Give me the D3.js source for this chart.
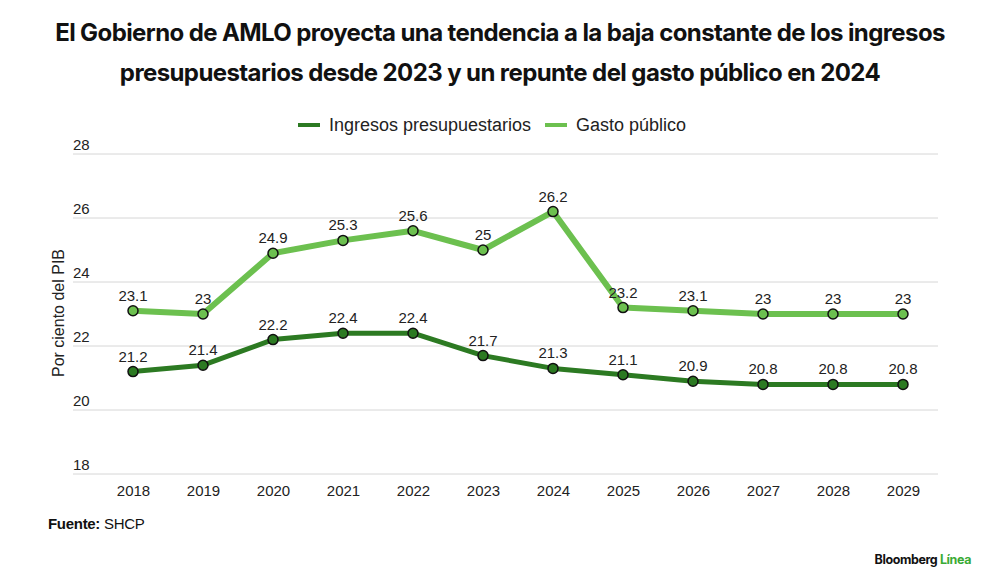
<!DOCTYPE html>
<html>
<head>
<meta charset="utf-8">
<script src="https://cdn.jsdelivr.net/npm/d3@7"></script>
<style>
  body { margin: 0; background: #fff; }
  svg { display: block; font-family: "Liberation Sans", Arial, sans-serif; }
</style>
</head>
<body>
<script>
var width = 1000;
var height = 588;

var years = ["2018", "2019", "2020", "2021", "2022", "2023", "2024", "2025", "2026", "2027", "2028", "2029"];
var ingresos = [21.2, 21.4, 22.2, 22.4, 22.4, 21.7, 21.3, 21.1, 20.9, 20.8, 20.8, 20.8];
var gasto = [23.1, 23, 24.9, 25.3, 25.6, 25, 26.2, 23.2, 23.1, 23, 23, 23];
var yTicks = [18, 20, 22, 24, 26, 28];

var series = [
  { name: "Ingresos presupuestarios", values: ingresos, color: "#2c7a22", width: 5 },
  { name: "Gasto público", values: gasto, color: "#6cc04f", width: 6 }
];

var svg = d3.select("body").append("svg")
  .attr("width", width)
  .attr("height", height);

// title
var title = svg.append("text")
  .attr("x", width / 2)
  .attr("text-anchor", "middle")
  .style("font-family", "Inter, 'Liberation Sans', sans-serif")
  .style("font-weight", 700)
  .style("font-size", "24px")
  .style("letter-spacing", "-0.6px")
  .attr("fill", "#111");
title.append("tspan").attr("x", width / 2).attr("y", 41)
  .text("El Gobierno de AMLO proyecta una tendencia a la baja constante de los ingresos");
title.append("tspan").attr("x", width / 2).attr("y", 81)
  .text("presupuestarios desde 2023 y un repunte del gasto público en 2024");

// scales
var x = d3.scalePoint().domain(years).range([133, 903]);
var y = d3.scaleLinear().domain([18, 28]).range([474, 154]);

// grid
svg.append("g")
  .selectAll("line")
  .data(yTicks)
  .enter().append("line")
  .attr("x1", 73)
  .attr("x2", 938)
  .attr("y1", function(d) { return y(d); })
  .attr("y2", function(d) { return y(d); })
  .attr("stroke", "#d6d6d6")
  .attr("stroke-width", 1);

svg.append("g")
  .selectAll("text")
  .data(yTicks)
  .enter().append("text")
  .attr("x", 73)
  .attr("y", function(d) { return y(d) - 4; })
  .style("font-size", "15px")
  .attr("fill", "#222")
  .text(function(d) { return d; });

// x axis labels
var xAxis = svg.append("g")
  .attr("transform", "translate(0," + 474 + ")")
  .call(d3.axisBottom(x).tickSize(0).tickPadding(11));
xAxis.select(".domain").remove();
xAxis.selectAll("text")
  .style("font-size", "15px")
  .style("font-family", "'Liberation Sans', Arial, sans-serif")
  .attr("fill", "#222");

// y axis title
svg.append("text")
  .attr("transform", "translate(64,313) rotate(-90)")
  .attr("text-anchor", "middle")
  .style("font-size", "16px")
  .attr("fill", "#222")
  .text("Por ciento del PIB");

// lines
var line = d3.line()
  .x(function(d, i) { return x(years[i]); })
  .y(function(d) { return y(d); });

series.forEach(function(s) {
  svg.append("path")
    .datum(s.values)
    .attr("d", line)
    .attr("fill", "none")
    .attr("stroke", s.color)
    .attr("stroke-width", s.width)
    .attr("stroke-linejoin", "round");

  svg.append("g")
    .selectAll("circle")
    .data(s.values)
    .enter().append("circle")
    .attr("cx", function(d, i) { return x(years[i]); })
    .attr("cy", function(d) { return y(d); })
    .attr("r", 5)
    .attr("fill", s.color)
    .attr("stroke", "#111")
    .attr("stroke-width", 1.5);

  svg.append("g")
    .selectAll("text")
    .data(s.values)
    .enter().append("text")
    .attr("x", function(d, i) { return x(years[i]); })
    .attr("y", function(d) { return y(d) - 10; })
    .attr("text-anchor", "middle")
    .style("font-size", "15px")
    .attr("fill", "#222")
    .text(function(d) { return d; });
});

// legend
var legend = svg.append("g");
var legendItems = [
  { s: series[0], x: 298 },
  { s: series[1], x: 545 }
];
legendItems.forEach(function(l) {
  legend.append("line")
    .attr("x1", l.x).attr("x2", l.x + 22)
    .attr("y1", 125).attr("y2", 125)
    .attr("stroke", l.s.color)
    .attr("stroke-width", 4);
  legend.append("text")
    .attr("x", l.x + 31)
    .attr("y", 131)
    .style("font-size", "18px")
    .attr("fill", "#222")
    .text(l.s.name);
});

// source
var src = svg.append("text")
  .attr("x", 48)
  .attr("y", 529)
  .style("font-size", "15px")
  .style("letter-spacing", "-0.3px")
  .attr("fill", "#111");
src.append("tspan").style("font-weight", 700).text("Fuente: ");
src.append("tspan").text("SHCP");

// brand
var brand = svg.append("text")
  .attr("x", 971)
  .attr("y", 564)
  .attr("text-anchor", "end")
  .style("font-family", "Inter, 'Liberation Sans', sans-serif")
  .style("font-size", "12.5px")
  .style("font-weight", 700)
  .style("letter-spacing", "-0.4px");
brand.append("tspan").attr("fill", "#111").text("Bloomberg ");
brand.append("tspan").attr("fill", "#3aab35").text("Línea");
</script>
</body>
</html>
